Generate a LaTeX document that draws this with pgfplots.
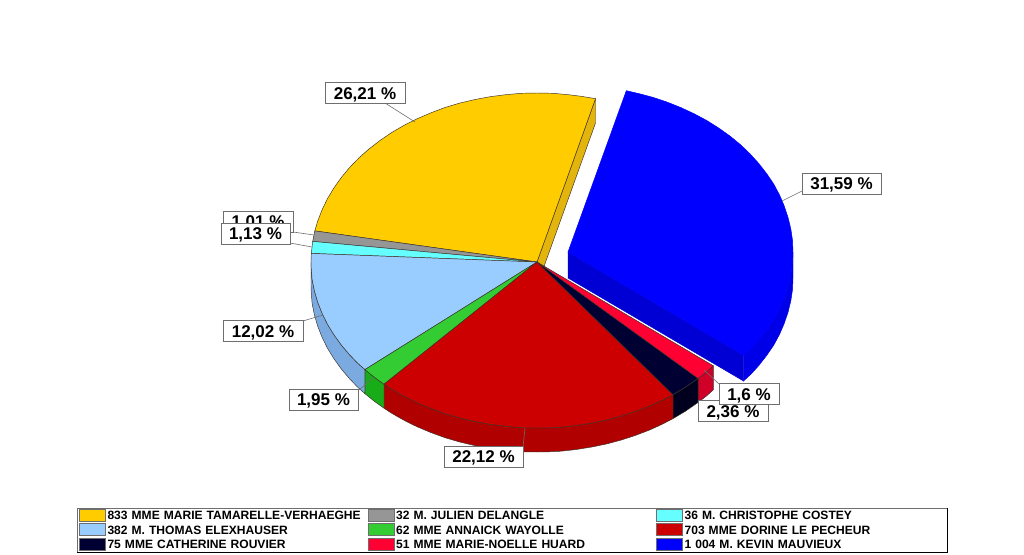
\documentclass[border=0pt]{standalone}
\usepackage{fontspec}
\setmainfont{Liberation Sans}
\usepackage{pgfplots}
\pgfplotsset{compat=1.18}

\definecolor{cyel}{RGB}{255,204,0}
\definecolor{cyelS}{RGB}{226,180,12}
\definecolor{cgry}{RGB}{150,150,150}
\definecolor{ccya}{RGB}{102,255,255}
\definecolor{clbl}{RGB}{153,204,255}
\definecolor{clblS}{RGB}{122,170,224}
\definecolor{cgrn}{RGB}{51,204,51}
\definecolor{cgrnS}{RGB}{24,172,24}
\definecolor{cred}{RGB}{204,0,0}
\definecolor{credS}{RGB}{176,0,0}
\definecolor{cnav}{RGB}{0,0,51}
\definecolor{cnavS}{RGB}{0,0,30}
\definecolor{cros}{RGB}{255,0,51}
\definecolor{crosS}{RGB}{208,0,40}
\definecolor{cblu}{RGB}{0,0,255}
\definecolor{cbluS}{RGB}{0,0,232}
\definecolor{cbluC}{RGB}{0,0,212}
\definecolor{cedge}{RGB}{60,50,40}
\definecolor{cbox}{RGB}{110,110,110}

\tikzset{
  lab/.style={draw=cbox, line width=0.55pt, fill=white, inner sep=0pt, minimum height=15.75pt,
    text height=9.2pt, text depth=0pt,
    font=\fontsize{12.75pt}{15pt}\selectfont\bfseries},
  lead/.style={draw=cbox, line width=0.45pt},
}
\pgfplotsset{
  wedge/.style={fill=#1, draw=cedge, line width=0.35pt, forget plot},
  wedgeb/.style={fill=#1, draw=#1, line width=0.35pt, forget plot},
}

\begin{document}
\begin{tikzpicture}
\path[use as bounding box] (0,0) rectangle (768pt,415.5pt);
\begin{axis}[
    at={(0,0)}, anchor=south west,
    scale only axis, width=768pt, height=415.5pt,
    xmin=0, xmax=1024, ymin=0, ymax=554, y dir=reverse,
    hide axis, clip=false,
    legend columns=3,
    legend cell align=left,
    legend image code/.code={\draw[#1, line width=0.4pt] (0pt,-4.5pt) rectangle (19.5pt,4.5pt); \path (21pt,0pt);},
    legend style={
      at={(axis cs:79,508)}, anchor=north west,
      draw=none, fill=none, inner sep=0pt, outer sep=0pt,
      column sep=0pt, row sep=0pt,
      nodes={inner sep=0pt, text width=195pt, text height=8.7pt, text depth=2.175pt,
        font=\fontsize{9.05pt}{11pt}\selectfont\bfseries},
    },
  ]

  % legend, same order as the reference
  \addlegendimage{fill=cyel, draw=cbox}
  \addlegendentry{833 MME MARIE TAMARELLE-VERHAEGHE}
  \addlegendimage{fill=cgry, draw=cbox}
  \addlegendentry{32 M. JULIEN DELANGLE}
  \addlegendimage{fill=ccya, draw=cbox}
  \addlegendentry{36 M. CHRISTOPHE COSTEY}
  \addlegendimage{fill=clbl, draw=cbox}
  \addlegendentry{382 M. THOMAS ELEXHAUSER}
  \addlegendimage{fill=cgrn, draw=cbox}
  \addlegendentry{62 MME ANNAICK WAYOLLE}
  \addlegendimage{fill=cred, draw=cbox}
  \addlegendentry{703 MME DORINE LE PECHEUR}
  \addlegendimage{fill=cnav, draw=cbox}
  \addlegendentry{75 MME CATHERINE ROUVIER}
  \addlegendimage{fill=cros, draw=cbox}
  \addlegendentry{51 MME MARIE-NOELLE HUARD}
  \addlegendimage{fill=cblu, draw=cbox}
  \addlegendentry{1 004 M. KEVIN MAUVIEUX}

  % legend frame
  \draw[cbox, line width=0.6pt] (axis cs:77,508) rectangle (axis cs:947,552);
  \draw[black, line width=1.1pt] (axis cs:77,552.6) -- (axis cs:947.6,552.6) -- (axis cs:947.6,508);

  % side faces
  \addplot[wedge=cyelS] coordinates {(595.5,98.7) (595.5,123) (537,286) (537,262)} --cycle;

  % exploded blue slice
  \addplot[wedgeb=cbluS] coordinates {(793,252) (792.5,263.5) (790.8,274.9) (788,286.3) (784.2,297.5) (779.5,308.4)
    (773.7,319.2) (766.7,329.4) (758.8,339.5) (751.2,347.9) (743.5,355.1)
    (743.5,381) (751.2,373.9) (758.8,365.5) (766.7,355.4) (773.7,345.2) (779.5,334.4)
    (784.2,323.5) (788,312.3) (790.8,300.9) (792.5,289.5) (793,278)} --cycle;
  \addplot[wedgeb=cbluC] coordinates {(568,252) (743.5,355.1) (743.5,381) (568,278)} --cycle;
  \addplot[wedgeb=cblu] coordinates {(568,252) (626.3,90.7) (639.3,93.7) (652.4,97.2) (666.6,101.9) (680.5,107.4)
    (693.8,113.6) (706.6,120.4) (718.5,127.9) (729.8,135.9) (740.4,144.6) (750,153.8)
    (758.8,163.5) (766.7,173.7) (773.7,184) (779.5,194.9) (784.2,205.9) (788,217.3)
    (790.8,228.8) (792.5,240.3) (793,252) (792.5,263.5) (790.8,274.9) (788,286.3)
    (784.2,297.5) (779.5,308.4) (773.7,319.2) (766.7,329.4) (758.8,339.5) (751.2,347.9) (743.5,355.1)} --cycle;

  % rims of the main pie
  \addplot[wedge=crosS] coordinates {(713.3,365.8) (706.3,372.1) (698.1,378.4) (698.1,402.4) (706.3,396.1) (713.3,389.8)} --cycle;
  \addplot[wedge=cnavS] coordinates {(698.1,378.4) (685.3,387.3) (673,394.6) (673,418.6) (685.3,411.3) (698.1,402.4)} --cycle;
  \addplot[wedge=credS] coordinates {(673,394.6) (661.8,400.4) (650,405.8) (636,411.2) (621.7,415.9) (606.8,419.9)
    (591.7,423) (576.3,425.5) (560.7,427.2) (548.8,427.8) (537,428) (521.2,427.7)
    (505.6,426.3) (490,424.3) (474.6,421.5) (459.7,418) (445,413.7) (431,408.6)
    (417.2,402.8) (407.3,398) (397.8,392.8) (390.8,388.7) (384,384.2)
    (384,408.2) (390.8,412.7) (397.8,416.8) (407.3,422) (417.2,426.8) (431,432.6)
    (445,437.7) (459.7,442) (474.6,445.5) (490,448.3) (505.6,450.3) (521.2,451.7)
    (537,452) (548.8,451.8) (560.7,451.2) (576.3,449.5) (591.7,447) (606.8,443.9)
    (621.7,439.9) (636,435.2) (650,429.8) (661.8,424.4) (673,418.6)} --cycle;
  \addplot[wedge=cgrnS] coordinates {(384,384.2) (374.5,377.4) (364.9,369.6) (364.9,393.6) (374.5,401.4) (384,408.2)} --cycle;
  \addplot[wedge=clblS] coordinates {(364.9,369.6) (356.9,362.4) (349.6,354.8) (341.3,345) (333.9,334.7) (327.5,324.3)
    (322.1,313.3) (317.7,302.2) (314.4,290.9) (312.1,279.4) (311.2,267.8) (311,262)
    (311,286) (311.2,291.8) (312.1,303.4) (314.4,314.9) (317.7,326.2) (322.1,337.3)
    (327.5,348.3) (333.9,358.7) (341.3,369) (349.6,378.8) (356.9,386.4) (364.9,393.6)} --cycle;

  % top faces of the main pie
  \addplot[wedge=cyel] coordinates {(537,262) (314.8,230.9) (317.7,221.1) (322.1,209.8) (327.5,198.6) (333.9,188)
    (341.3,177.5) (349.6,167.5) (358.9,157.9) (369.1,148.9) (380,140.5) (391.7,132.5)
    (404.1,125.3) (417.2,118.7) (431,112.8) (445,107.5) (459.7,103.1) (474.6,99.6)
    (490,96.7) (505.6,94.7) (521.2,93.3) (537,93) (552.8,93.3) (568.4,94.7) (582,96.4) (595.5,98.7)} --cycle;
  \addplot[wedge=cgry] coordinates {(537,262) (312.7,241.4) (314.8,230.9)} --cycle;
  \addplot[wedge=ccya] coordinates {(537,262) (311.3,253.4) (312.7,241.4)} --cycle;
  \addplot[wedge=clbl] coordinates {(537,262) (364.9,369.6) (356.9,362.4) (349.6,354.8) (341.3,345) (333.9,334.7)
    (327.5,324.3) (322.1,313.3) (317.7,302.2) (314.4,290.9) (312.1,279.4) (311.2,267.8) (311,262) (311.3,253.4)} --cycle;
  \addplot[wedge=cgrn] coordinates {(537,262) (384,384.2) (374.5,377.4) (364.9,369.6)} --cycle;
  \addplot[wedge=cred] coordinates {(537,262) (673,394.6) (661.8,400.4) (650,405.8) (636,411.2) (621.7,415.9) (606.8,419.9)
    (591.7,423) (576.3,425.5) (560.7,427.2) (548.8,427.8) (537,428) (521.2,427.7)
    (505.6,426.3) (490,424.3) (474.6,421.5) (459.7,418) (445,413.7) (431,408.6)
    (417.2,402.8) (407.3,398) (397.8,392.8) (390.8,388.7) (384,384.2)} --cycle;
  \addplot[wedge=cnav] coordinates {(537,262) (698.1,378.4) (685.3,387.3) (673,394.6)} --cycle;
  \addplot[wedge=cros] coordinates {(537,262) (713.3,365.8) (706.3,372.1) (698.1,378.4)} --cycle;

  % leader lines
  \draw[lead] (axis cs:385,103) -- (axis cs:415,122);
  \draw[lead] (axis cs:782,201) -- (axis cs:802,191);
  \draw[lead] (axis cs:293,232) -- (axis cs:314,235);
  \draw[lead] (axis cs:290,243) -- (axis cs:312,247);
  \draw[lead] (axis cs:303,321) -- (axis cs:323,315);
  \draw[lead] (axis cs:359,390) -- (axis cs:374,377);
  \draw[lead] (axis cs:523,447) -- (axis cs:525,428);
  \draw[lead] (axis cs:704,370) -- (axis cs:719,384);

  % value labels
  \node[lab, minimum width=60pt] at (axis cs:365,93) {26,21 \%};
  \node[lab, minimum width=59.25pt] at (axis cs:841.5,183.5) {31,59 \%};
  \node[lab, minimum width=52.5pt] at (axis cs:258,221.5) {1,01 \%};
  \node[lab, minimum width=51.75pt] at (axis cs:255.5,233.5) {1,13 \%};
  \node[lab, minimum width=60pt] at (axis cs:263,331) {12,02 \%};
  \node[lab, minimum width=51.75pt] at (axis cs:323.5,399.5) {1,95 \%};
  \node[lab, minimum width=59.25pt] at (axis cs:483.5,456.5) {22,12 \%};
  \node[lab, minimum width=52.5pt] at (axis cs:733,411) {2,36 \%};
  \node[lab, minimum width=45pt] at (axis cs:749,394) {1,6 \%};
\end{axis}
\end{tikzpicture}
\end{document}
